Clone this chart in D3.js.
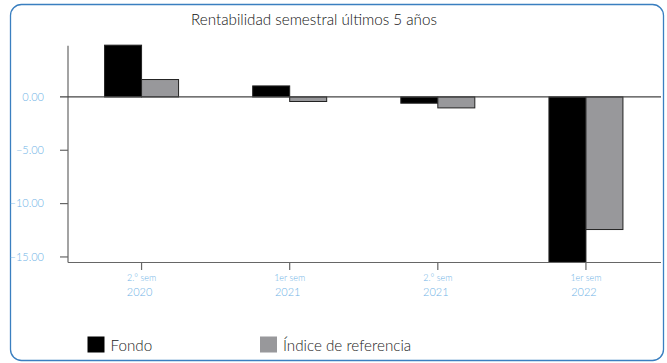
<!DOCTYPE html>
<html><head><meta charset="utf-8">
<script src="https://cdn.jsdelivr.net/npm/d3@7"></script>
<style>body{margin:0;background:#fff}svg{display:block}</style>
</head><body>
<script>
const categories = ["2.° sem|2020", "1er sem|2021", "2.° sem|2021", "1er sem|2022"];
const fondo = [4.85, 1.03, -0.59, -15.5];
const indice = [1.63, -0.43, -1.03, -12.43];
const yTicks = [0, -5, -10, -15];
const seriesNames = ["Fondo", "Índice de referencia"];
const seriesColors = ["#000000", "#98989b"];

const W = 667, H = 363;
const svg = d3.select("body").append("svg").attr("width", W).attr("height", H);
const font = "Lato, 'Open Sans', sans-serif";

svg.append("rect").attr("x", 10.5).attr("y", 4.5).attr("width", 653).attr("height", 356)
  .attr("rx", 11).attr("fill", "#fff").attr("stroke", "#3a7fc0").attr("stroke-width", 1.3);

svg.append("text").attr("x", 314).attr("y", 25).attr("text-anchor", "middle")
  .attr("font-family", font).attr("font-weight", 300).attr("font-size", 15.2).attr("fill", "#111")
  .text("Rentabilidad semestral últimos 5 años");

const x = d3.scaleBand().domain(categories).range([67.5, 660]).paddingInner(0).paddingOuter(0);
const y = d3.scaleLinear().domain([-15.52, 4.8]).range([262.5, 45.7]);
const bw = 37;

const data = categories.map((c, i) => ({c, v: [fondo[i], indice[i]]}));
const g = svg.append("g");
data.forEach(d => {
  d.v.forEach((v, j) => {
    const cx = x(d.c) + x.bandwidth() / 2;
    const vv = Math.max(v, y.domain()[0]);
    g.append("rect")
      .attr("x", cx - bw + j * bw).attr("width", bw)
      .attr("y", y(Math.max(0, vv))).attr("height", Math.abs(y(vv) - y(0)))
      .attr("fill", seriesColors[j]).attr("stroke", "#222").attr("stroke-width", 1);
  });
});

// y axis
const yAxis = svg.append("g");
yAxis.append("line").attr("x1", 68).attr("x2", 68).attr("y1", y.range()[1]).attr("y2", y.range()[0])
  .attr("stroke", "#666").attr("stroke-width", 1.2);
yTicks.forEach(t => {
  yAxis.append("line").attr("x1", 60).attr("x2", t === 0 ? 661 : 68).attr("y1", y(t)).attr("y2", y(t))
    .attr("stroke", t === 0 ? "#444" : "#666").attr("stroke-width", 1.2);
  yAxis.append("text").attr("x", 44).attr("y", y(t)).attr("dy", "0.35em").attr("text-anchor", "end")
    .attr("font-family", font).attr("font-weight", 300).attr("font-size", 11).attr("fill", "#6fb3e6")
    .text(d3.format(".2f")(t));
});

// x axis
const xAxis = svg.append("g");
xAxis.append("line").attr("x1", 68).attr("x2", 661).attr("y1", y.range()[0]).attr("y2", y.range()[0])
  .attr("stroke", "#666").attr("stroke-width", 1.2);
categories.forEach(c => {
  const cx = x(c) + x.bandwidth() / 2;
  const [l1, l2] = c.split("|");
  xAxis.append("line").attr("x1", cx).attr("x2", cx).attr("y1", y.range()[0]).attr("y2", 270)
    .attr("stroke", "#666").attr("stroke-width", 1.2);
  xAxis.append("text").attr("x", cx).attr("y", 281).attr("text-anchor", "middle")
    .attr("font-family", font).attr("font-weight", 300).attr("font-size", 9).attr("fill", "#6fb3e6").text(l1);
  xAxis.append("text").attr("x", cx - 2).attr("y", 296).attr("text-anchor", "middle")
    .attr("font-family", font).attr("font-weight", 300).attr("font-size", 11).attr("fill", "#6fb3e6").text(l2);
});

// legend
const legX = [87.5, 260];
seriesNames.forEach((n, i) => {
  svg.append("rect").attr("x", legX[i]).attr("y", 336.5).attr("width", 17).attr("height", 16)
    .attr("fill", seriesColors[i]);
  svg.append("text").attr("x", legX[i] + 23).attr("y", 351)
    .attr("font-family", font).attr("font-weight", 300).attr("font-size", 15.2).attr("fill", "#222").text(n);
});
</script>
</body></html>
